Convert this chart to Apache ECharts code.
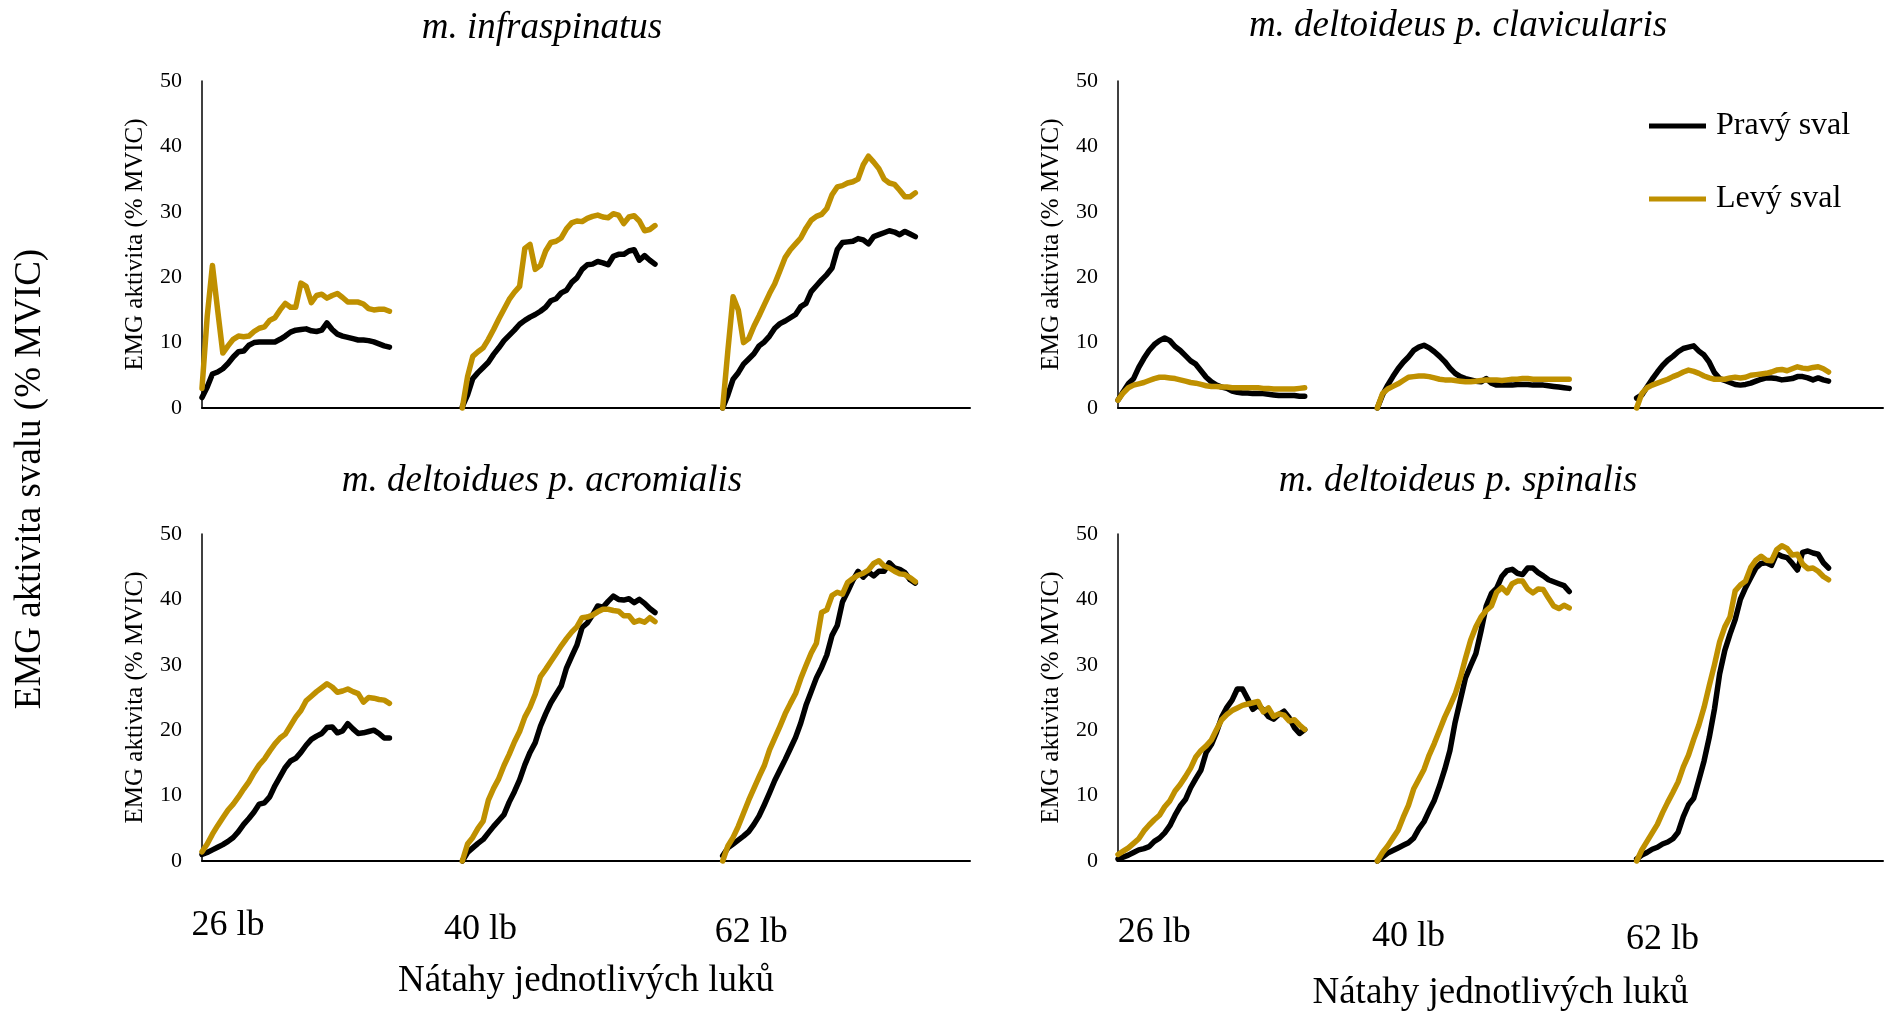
<!DOCTYPE html>
<html><head><meta charset="utf-8">
<script src="https://cdn.jsdelivr.net/npm/echarts@6/dist/echarts.min.js"></script>
<style>html,body{margin:0;padding:0;background:#fff}#c{width:1885px;height:1013px}</style>
</head><body><div id="c"></div>
<script>
// ---- data: EMG activity (% MVIC), one sample every 2 time units ----
// m. infraspinatus
const infra_R_26 = [1.6,3.2,5.2,5.5,6.0,6.8,7.8,8.6,8.7,9.6,10.0,10.1,10.1,10.1,10.1,10.5,11.0,11.6,11.9,12.0,12.1,11.8,11.7,11.9,13.0,12.0,11.3,11.0,10.8,10.6,10.4,10.4,10.3,10.1,9.8,9.5,9.3];
const infra_L_26 = [3.0,14.0,21.8,15.0,8.4,9.5,10.5,11.0,10.9,11.0,11.7,12.2,12.4,13.4,13.8,15.0,16.0,15.4,15.4,19.1,18.6,16.1,17.2,17.4,16.8,17.2,17.5,16.9,16.2,16.2,16.2,15.9,15.2,15.0,15.1,15.1,14.8];
const infra_R_40 = [0.2,2.0,4.5,5.4,6.2,7.0,8.2,9.2,10.3,11.1,11.9,12.8,13.4,13.9,14.3,14.8,15.4,16.4,16.7,17.6,18.0,19.2,19.9,21.2,21.9,22.0,22.4,22.2,21.9,23.2,23.5,23.5,24.0,24.2,22.6,23.3,22.6,22.0];
const infra_L_40 = [0,4.8,7.9,8.6,9.2,10.5,12.0,13.6,15.1,16.6,17.7,18.6,24.4,25.0,21.2,21.8,24.0,25.3,25.5,26.0,27.4,28.3,28.6,28.5,29.0,29.3,29.5,29.2,29.1,29.7,29.5,28.2,29.2,29.4,28.6,27.1,27.3,27.9];
const infra_R_62 = [0.0,2.0,4.4,5.4,6.7,7.5,8.3,9.5,10.1,11.0,12.2,12.9,13.3,13.8,14.3,15.5,16.0,17.8,18.7,19.6,20.4,21.4,24.2,25.3,25.4,25.5,25.9,25.7,25.1,26.2,26.5,26.8,27.1,26.9,26.5,27.0,26.6,26.2];
const infra_L_62 = [0,8.8,17.0,15.0,10.0,10.6,12.5,14.1,15.8,17.5,19.0,21.0,23.0,24.2,25.1,26.0,27.5,28.7,29.3,29.6,30.5,32.6,33.8,34.0,34.4,34.6,35.0,37.2,38.5,37.6,36.6,35.0,34.4,34.2,33.3,32.3,32.3,32.9];
// m. deltoideus p. clavicularis
const clav_R_26 = [1.2,2.5,3.7,4.5,6.2,7.6,8.8,9.7,10.3,10.7,10.3,9.4,8.8,8.0,7.2,6.7,5.7,4.7,4.0,3.5,3.2,3.0,2.6,2.4,2.3,2.3,2.2,2.2,2.2,2.1,2.0,1.9,1.9,1.9,1.9,1.8,1.8];
const clav_L_26 = [1.2,2.3,3.1,3.5,3.7,3.9,4.2,4.5,4.7,4.7,4.6,4.5,4.3,4.1,3.9,3.8,3.6,3.4,3.3,3.3,3.2,3.2,3.1,3.1,3.1,3.1,3.1,3.1,3.0,3.0,2.9,2.9,2.9,2.9,2.9,3.0,3.1];
const clav_R_40 = [0.0,2.0,3.5,4.8,6.0,7.0,7.8,8.8,9.3,9.6,9.2,8.6,7.9,7.1,6.1,5.3,4.8,4.5,4.3,4.1,4.0,4.5,3.8,3.5,3.5,3.5,3.5,3.6,3.6,3.6,3.5,3.5,3.5,3.4,3.3,3.2,3.1,3.0];
const clav_L_40 = [0.0,2.2,2.9,3.3,3.7,4.2,4.7,4.8,4.9,4.9,4.8,4.6,4.4,4.3,4.3,4.2,4.1,4.0,4.0,4.1,4.2,4.3,4.3,4.3,4.2,4.3,4.4,4.4,4.5,4.5,4.4,4.4,4.4,4.4,4.4,4.4,4.4,4.4];
const clav_R_62 = [1.5,2.0,3.2,4.4,5.5,6.5,7.3,7.9,8.6,9.1,9.3,9.5,8.7,8.1,7.0,5.4,4.5,4.2,3.9,3.6,3.5,3.6,3.8,4.1,4.4,4.6,4.6,4.5,4.3,4.4,4.5,4.8,4.8,4.6,4.3,4.6,4.3,4.1];
const clav_L_62 = [0.0,2.2,3.1,3.5,3.8,4.1,4.4,4.8,5.1,5.5,5.8,5.6,5.3,4.9,4.6,4.4,4.4,4.4,4.6,4.7,4.6,4.7,5.0,5.1,5.2,5.3,5.5,5.8,5.9,5.7,6.0,6.3,6.1,6.0,6.2,6.3,6.0,5.5];
// m. deltoidues p. acromialis
const acro_R_26 = [1.0,1.3,1.7,2.1,2.5,3.0,3.6,4.5,5.6,6.5,7.5,8.7,8.9,9.8,11.5,12.9,14.3,15.3,15.7,16.6,17.7,18.6,19.1,19.5,20.4,20.5,19.6,19.9,21.0,20.2,19.5,19.6,19.8,20.0,19.5,18.8,18.8];
const acro_L_26 = [1.4,2.6,4.1,5.4,6.6,7.8,8.7,9.8,11.0,12.1,13.5,14.7,15.6,16.8,17.9,18.8,19.4,20.7,22.0,23.0,24.5,25.2,25.9,26.5,27.1,26.6,25.8,26.0,26.3,25.9,25.6,24.3,25.0,24.9,24.7,24.6,24.1];
const acro_R_40 = [0.0,1.3,2.0,2.7,3.3,4.3,5.3,6.2,7.1,9.0,10.6,12.4,14.7,16.6,18.1,20.6,22.5,24.2,25.5,26.8,29.5,31.3,33.0,35.7,36.4,37.6,39.0,38.8,39.7,40.5,40.0,39.9,40.1,39.5,40.0,39.4,38.6,38.0];
const acro_L_40 = [0.0,2.6,3.6,5.0,6.1,9.3,11.1,12.6,14.6,16.3,18.2,19.8,22.0,23.5,25.5,28.2,29.3,30.5,31.7,32.9,34.0,35.0,35.8,37.2,37.3,37.6,38.1,38.5,38.5,38.3,38.2,37.5,37.5,36.5,36.8,36.5,37.2,36.6];
const acro_R_62 = [0.8,2.0,2.6,3.2,3.8,4.5,5.6,6.9,8.6,10.4,12.3,13.9,15.5,17.2,18.9,21.1,23.8,25.9,28.0,29.6,31.5,34.5,36.0,39.6,41.2,42.9,44.3,43.4,44.2,43.6,44.3,44.3,45.6,44.8,44.6,44.1,43.0,42.5];
const acro_L_62 = [0.0,2.3,3.6,5.3,7.3,9.3,11.1,12.9,14.6,17.0,18.8,20.6,22.5,24.1,25.6,27.9,29.9,31.8,33.3,38.0,38.4,40.6,41.1,40.8,42.6,43.2,43.7,44.0,44.5,45.5,45.9,45.1,44.8,44.3,43.9,43.8,43.3,42.7];
// m. deltoideus p. spinalis
const spin_R_26 = [0.3,0.6,0.9,1.3,1.7,1.9,2.2,3.0,3.5,4.3,5.4,7.0,8.4,9.4,11.2,12.6,13.9,16.6,17.8,19.7,22.0,23.5,24.6,26.3,26.3,24.8,23.2,23.8,23.1,22.1,21.7,22.4,22.9,21.9,20.4,19.5,20.1];
const spin_L_26 = [1.0,1.5,2.0,2.7,3.4,4.6,5.5,6.3,7.0,8.3,9.2,10.7,11.7,12.9,14.2,15.9,16.9,17.6,18.5,20.1,21.6,22.4,23.0,23.4,23.8,24.0,24.2,24.4,22.8,23.4,22.1,22.5,22.3,21.4,21.6,20.8,20.1];
const spin_R_40 = [0.0,0.6,1.2,1.6,2.0,2.4,2.8,3.5,4.9,6.0,7.7,9.3,11.5,14.0,16.9,21.2,24.6,28.0,29.9,31.7,35.2,39.0,40.9,41.7,43.5,44.4,44.6,44.0,43.8,44.8,44.8,44.1,43.6,43.0,42.7,42.4,42.1,41.2];
const spin_L_40 = [0.0,1.3,2.3,3.5,4.7,6.7,8.5,11.0,12.5,14.0,16.2,18.0,20.0,22.0,23.7,25.5,28.0,31.0,33.8,35.8,37.3,38.3,39.0,41.1,41.8,41.0,42.4,42.8,42.8,41.6,41.0,41.6,41.5,40.2,39.0,38.6,39.1,38.7];
const spin_R_62 = [0.3,0.9,1.3,1.8,2.1,2.6,2.9,3.4,4.4,6.8,8.6,9.6,12.4,15.3,18.9,23.2,28.6,32.2,34.7,36.9,40.0,41.8,43.3,44.8,45.5,45.6,45.2,47.0,46.6,46.4,45.5,44.5,47.2,47.4,47.1,46.9,45.6,44.8];
const spin_L_62 = [0.0,1.7,3.0,4.3,5.6,7.4,9.0,10.5,12.1,14.4,16.2,18.6,20.8,23.5,26.8,30.0,33.5,35.8,37.3,41.3,42.2,42.8,44.9,46.0,46.6,46.0,45.9,47.6,48.2,47.8,46.8,46.9,45.4,44.7,44.8,44.3,43.5,43.0];

const PANEL_TITLES = ['m. infraspinatus','m. deltoideus p. clavicularis','m. deltoidues p. acromialis','m. deltoideus p. spinalis'];
const SERIES_NAMES = ['Pravý sval','Levý sval'];
const GROUP_LABELS = ['26 lb','40 lb','62 lb'];
const GROUP_START = [0,100,200];
const STEP = 2;
const X_MAX = 295;
const Y_MIN = 0, Y_MAX = 50, Y_INTERVAL = 10;
const Y_NAME = 'EMG aktivita (% MVIC)';
const X_NAME = 'Nátahy jednotlivých luků';
const BIG_Y_NAME = 'EMG aktivita svalu (% MVIC)';

const panels = [
  {R:[infra_R_26,infra_R_40,infra_R_62], L:[infra_L_26,infra_L_40,infra_L_62]},
  {R:[clav_R_26,clav_R_40,clav_R_62],    L:[clav_L_26,clav_L_40,clav_L_62]},
  {R:[acro_R_26,acro_R_40,acro_R_62],    L:[acro_L_26,acro_L_40,acro_L_62]},
  {R:[spin_R_26,spin_R_40,spin_R_62],    L:[spin_L_26,spin_L_40,spin_L_62]}
];

// ---- layout / style ----
const FONT = '"Liberation Serif","Times New Roman",serif';
const COLORS = ['#000000','#BF9000'];
const grids = [
  {left:202, top:81, width:768, height:327},
  {left:1118, top:81, width:765, height:327},
  {left:202, top:534, width:768, height:327},
  {left:1118, top:534, width:765, height:327}
];
const titlePos = [[542,28],[1458,26],[542,481],[1458,481]];

const chart = echarts.init(document.getElementById('c'), null, {renderer:'canvas'});

const xAxes = grids.map((g,i)=>({
  type:'value', gridIndex:i, min:0, max:X_MAX,
  axisLine:{show:true, onZero:false, lineStyle:{color:'#000', width:2}},
  axisTick:{show:false}, axisLabel:{show:false}, splitLine:{show:false},
  name: i>=2 ? X_NAME : '', nameLocation:'middle', nameGap: i===2 ? 102 : 114,
  nameTextStyle:{fontFamily:FONT, fontSize:37, color:'#000'}
}));
const yAxes = grids.map((g,i)=>({
  type:'value', gridIndex:i, min:Y_MIN, max:Y_MAX, interval:Y_INTERVAL,
  axisLine:{show:true, lineStyle:{color:'#000', width:1.5}},
  axisTick:{show:false}, splitLine:{show:false},
  axisLabel:{fontFamily:FONT, fontSize:22, color:'#000', margin:20},
  name:Y_NAME, nameLocation:'middle', nameGap:54,
  nameTextStyle:{fontFamily:FONT, fontSize:25, color:'#000'}
}));

const series = [];
panels.forEach((p,pi)=>{
  [p.R, p.L].forEach((groups,si)=>{
    groups.forEach((arr,gi)=>{
      series.push({
        type:'line', name:SERIES_NAMES[si], xAxisIndex:pi, yAxisIndex:pi,
        data: arr.map((v,i)=>[GROUP_START[gi]+i*STEP, v]),
        symbol:'none', showSymbol:false, clip:false, animation:false,
        z: 2+si,
        lineStyle:{color:COLORS[si], width:5.5, cap:'round', join:'round'},
        itemStyle:{color:COLORS[si]}
      });
    });
  });
});

chart.setOption({
  backgroundColor:'#ffffff',
  animation:false,
  grid: grids,
  xAxis: xAxes,
  yAxis: yAxes,
  legend:{
    data:SERIES_NAMES, orient:'vertical', left:1644, top:101,
    icon:'rect', itemWidth:57, itemHeight:5, itemGap:33, selectedMode:false,
    textStyle:{fontFamily:FONT, fontSize:32, color:'#000', lineHeight:40, padding:[0,0,0,5]}
  },
  series: series
});

// ---- texts: panel titles, overall y label, group labels ----
const graphics = [];
PANEL_TITLES.forEach((t,i)=>{
  graphics.push({type:'text', x:titlePos[i][0], y:titlePos[i][1], silent:true,
    style:{text:t, fontFamily:FONT, fontStyle:'italic', fontSize:37, fill:'#000', textAlign:'center', verticalAlign:'middle'}});
});
graphics.push({type:'text', x:30, y:479, rotation:Math.PI/2, silent:true,
  style:{text:BIG_Y_NAME, fontFamily:FONT, fontSize:37, fill:'#000', textAlign:'center', verticalAlign:'middle'}});

const labelOffsets = {2:[10,7,11], 3:[14,12,10]};
const labelDrop = {2:[65,69,72], 3:[72,76,79]};
[2,3].forEach(pi=>{
  const y0 = chart.convertToPixel({yAxisIndex:pi}, 0);
  GROUP_LABELS.forEach((lab,gi)=>{
    const x = chart.convertToPixel({xAxisIndex:pi}, GROUP_START[gi]+labelOffsets[pi][gi]);
    graphics.push({type:'text', x:x, y:y0+labelDrop[pi][gi], silent:true,
      style:{text:lab, fontFamily:FONT, fontSize:36, fill:'#000', textAlign:'center', verticalAlign:'middle'}});
  });
});
chart.setOption({graphic: graphics});
</script>
</body></html>
